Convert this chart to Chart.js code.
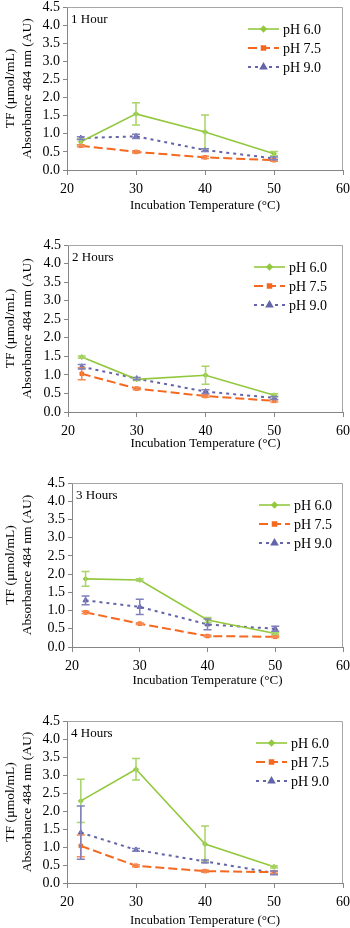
<!DOCTYPE html>
<html>
<head>
<meta charset="utf-8">
<script src="https://cdn.jsdelivr.net/npm/chart.js@4.4.1/dist/chart.umd.min.js"></script>
<style>
  body { margin: 0; background: #fff; width: 350px; height: 928px; position: relative; overflow: hidden; }
  .panel { position: absolute; left: 0; width: 350px; height: 232px; }
</style>
</head>
<body>
<div class="panel" style="top:0px"><canvas id="c1"></canvas></div>
<div class="panel" style="top:232px"><canvas id="c2"></canvas></div>
<div class="panel" style="top:464px"><canvas id="c3"></canvas></div>
<div class="panel" style="top:696px"><canvas id="c4"></canvas></div>
<script>
// --- data ---
const temps = [22, 30, 40, 50];
const seriesNames = ['pH 6.0', 'pH 7.5', 'pH 9.0'];
const panelTitles = ['1 Hour', '2 Hours', '3 Hours', '4 Hours'];
const xTicks = [20, 30, 40, 50, 60];
const yTicks = [0, 0.5, 1, 1.5, 2, 2.5, 3, 3.5, 4, 4.5];

// 1 hour
const h1_ph60 = [0.78, 1.55, 1.05, 0.45];
const h1_ph60_err = [0.08, 0.31, 0.47, 0.06];
const h1_ph75 = [0.67, 0.50, 0.35, 0.27];
const h1_ph75_err = [0.03, 0.03, 0.03, 0.03];
const h1_ph90 = [0.88, 0.93, 0.55, 0.32];
const h1_ph90_err = [0.04, 0.06, 0.04, 0.04];

// 2 hours
const h2_ph60 = [1.48, 0.88, 0.99, 0.45];
const h2_ph60_err = [0.03, 0.03, 0.24, 0.04];
const h2_ph75 = [1.03, 0.63, 0.43, 0.30];
const h2_ph75_err = [0.16, 0.03, 0.03, 0.03];
const h2_ph90 = [1.22, 0.90, 0.55, 0.38];
const h2_ph90_err = [0.06, 0.03, 0.05, 0.04];

// 3 hours
const h3_ph60 = [1.87, 1.84, 0.74, 0.37];
const h3_ph60_err = [0.20, 0.03, 0.07, 0.03];
const h3_ph75 = [0.95, 0.64, 0.30, 0.28];
const h3_ph75_err = [0.03, 0.02, 0.02, 0.02];
const h3_ph90 = [1.28, 1.10, 0.62, 0.50];
const h3_ph90_err = [0.12, 0.21, 0.15, 0.07];

// 4 hours
const h4_ph60 = [2.28, 3.16, 1.08, 0.45];
const h4_ph60_err = [0.60, 0.30, 0.50, 0.03];
const h4_ph75 = [1.03, 0.48, 0.33, 0.30];
const h4_ph75_err = [0.30, 0.03, 0.03, 0.03];
const h4_ph90 = [1.40, 0.92, 0.60, 0.28];
const h4_ph90_err = [0.74, 0.04, 0.04, 0.05];

// --- styles ---
const FONT = 'Liberation Serif';
const styles = [
  { color: '#92c83e', errColor: '#a8d468', dash: [], width: 1.6, point: 'rectRot', radius: 2.5 },
  { color: '#f5681f', errColor: '#f58a52', dash: [9, 4], width: 2, point: 'rect', radius: 2.5 },
  { color: '#6464a8', errColor: '#8080bc', dash: [3, 4], width: 2, point: 'triangle', radius: 3 }
];

// chart area geometry per panel (canvas coords)
const layouts = [
  { left: 67, top: 7, bottom: 170, xh: 43, legX: 248 },
  { left: 68, top: 13, bottom: 180, xh: 39, legX: 254 },
  { left: 72, top: 19, bottom: 183, xh: 41, legX: 259 },
  { left: 67, top: 25, bottom: 187, xh: 45, legX: 256 }
];

const errorBars = {
  id: 'errorBars',
  afterDatasetsDraw(chart) {
    const ctx = chart.ctx;
    const xs = chart.scales.x, ys = chart.scales.y;
    chart.data.datasets.forEach((ds, i) => {
      ctx.save();
      ctx.strokeStyle = styles[i].errColor;
      ctx.lineWidth = 1.5;
      ds.errors.forEach((e, j) => {
        const x = xs.getPixelForValue(ds.data[j].x);
        const yt = ys.getPixelForValue(ds.data[j].y + e);
        const yb = ys.getPixelForValue(Math.max(0, ds.data[j].y - e));
        ctx.beginPath();
        ctx.moveTo(x, yt); ctx.lineTo(x, yb);
        ctx.moveTo(x - 4, yt); ctx.lineTo(x + 4, yt);
        ctx.moveTo(x - 4, yb); ctx.lineTo(x + 4, yb);
        ctx.stroke();
      });
      ctx.restore();
    });
  }
};

const frameAndLegend = {
  id: 'frameAndLegend',
  beforeDatasetsDraw(chart) {
    const { ctx, chartArea: a } = chart;
    ctx.save();
    ctx.strokeStyle = '#a6a6a6';
    ctx.lineWidth = 1;
    ctx.beginPath();
    ctx.moveTo(a.left, a.top + 0.5); ctx.lineTo(a.right - 0.5, a.top + 0.5); ctx.lineTo(a.right - 0.5, a.bottom);
    ctx.stroke();
    ctx.restore();
  },
  afterDraw(chart, args, opts) {
    const { ctx, chartArea: a } = chart;
    ctx.save();
    ctx.fillStyle = '#000';
    ctx.font = '13px "' + FONT + '"';
    ctx.textBaseline = 'middle';
    ctx.textAlign = 'left';
    ctx.fillText(opts.title, a.left + 4, a.top + 13);
    chart.data.datasets.forEach((ds, i) => {
      const st = styles[i];
      const y = a.top + 22 + i * 19;
      const x0 = opts.legX, x1 = opts.legX + 31;
      ctx.strokeStyle = st.color;
      ctx.lineWidth = st.width;
      ctx.setLineDash(st.dash);
      ctx.beginPath();
      ctx.moveTo(x0, y); ctx.lineTo(x1, y);
      ctx.stroke();
      ctx.setLineDash([]);
      ctx.fillStyle = st.color;
      Chart.helpers.drawPoint(ctx, { pointStyle: st.point, radius: st.radius, rotation: 0, borderWidth: 1 }, (x0 + x1) / 2, y);
      ctx.fillStyle = '#000';
      ctx.font = '14px "' + FONT + '"';
      ctx.fillText(ds.label, x1 + 4, y + 1);
    });
    ctx.restore();
  }
};

const panelData = [
  [[h1_ph60, h1_ph60_err], [h1_ph75, h1_ph75_err], [h1_ph90, h1_ph90_err]],
  [[h2_ph60, h2_ph60_err], [h2_ph75, h2_ph75_err], [h2_ph90, h2_ph90_err]],
  [[h3_ph60, h3_ph60_err], [h3_ph75, h3_ph75_err], [h3_ph90, h3_ph90_err]],
  [[h4_ph60, h4_ph60_err], [h4_ph75, h4_ph75_err], [h4_ph90, h4_ph90_err]]
];

panelData.forEach((series, p) => {
  const L = layouts[p];
  const datasets = series.map(([vals, errs], i) => ({
    label: seriesNames[i],
    data: temps.map((t, j) => ({ x: t, y: vals[j] })),
    errors: errs,
    borderColor: styles[i].color,
    backgroundColor: styles[i].color,
    borderWidth: styles[i].width,
    borderDash: styles[i].dash,
    pointStyle: styles[i].point,
    pointRadius: styles[i].radius,
    pointBorderWidth: 1,
    tension: 0
  }));

  new Chart(document.getElementById('c' + (p + 1)), {
    type: 'line',
    data: { datasets },
    options: {
      responsive: true,
      maintainAspectRatio: false,
      animation: false,
      layout: { padding: { left: 0, right: 7, top: L.top, bottom: 232 - L.bottom - L.xh } },
      plugins: {
        legend: { display: false },
        tooltip: { enabled: false },
        frameAndLegend: { title: panelTitles[p], legX: L.legX }
      },
      scales: {
        x: {
          type: 'linear', min: 20, max: 60,
          afterFit: s => { s.height = L.xh; s.paddingLeft = 0; s.paddingRight = 0; },
          afterBuildTicks: s => { s.ticks = xTicks.map(v => ({ value: v })); },
          grid: { drawOnChartArea: false, tickLength: 5, color: '#868686' },
          border: { color: '#868686' },
          ticks: { color: '#000', padding: 6, maxRotation: 0, autoSkip: false, font: { family: FONT, size: 14 } },
          title: { display: true, text: 'Incubation Temperature (°C)', color: '#000', padding: 0, font: { family: FONT, size: 13 } }
        },
        y: {
          min: 0, max: 4.5,
          afterFit: s => { s.width = L.left; s.paddingTop = 0; s.paddingBottom = 0; },
          afterBuildTicks: s => { s.ticks = yTicks.map(v => ({ value: v })); },
          grid: { drawOnChartArea: false, tickLength: 4, color: '#868686' },
          border: { color: '#868686' },
          ticks: { color: '#000', padding: 3, autoSkip: false, callback: v => v.toFixed(1), font: { family: FONT, size: 14 } },
          title: { display: true, text: ['TF (µmol/mL)', 'Absorbance 484 nm (AU)'], color: '#000', padding: { top: 2, bottom: 0 }, font: { family: FONT, size: 13.5, lineHeight: 1.25 } }
        }
      }
    },
    plugins: [frameAndLegend, errorBars]
  });
});
</script>
</body>
</html>
